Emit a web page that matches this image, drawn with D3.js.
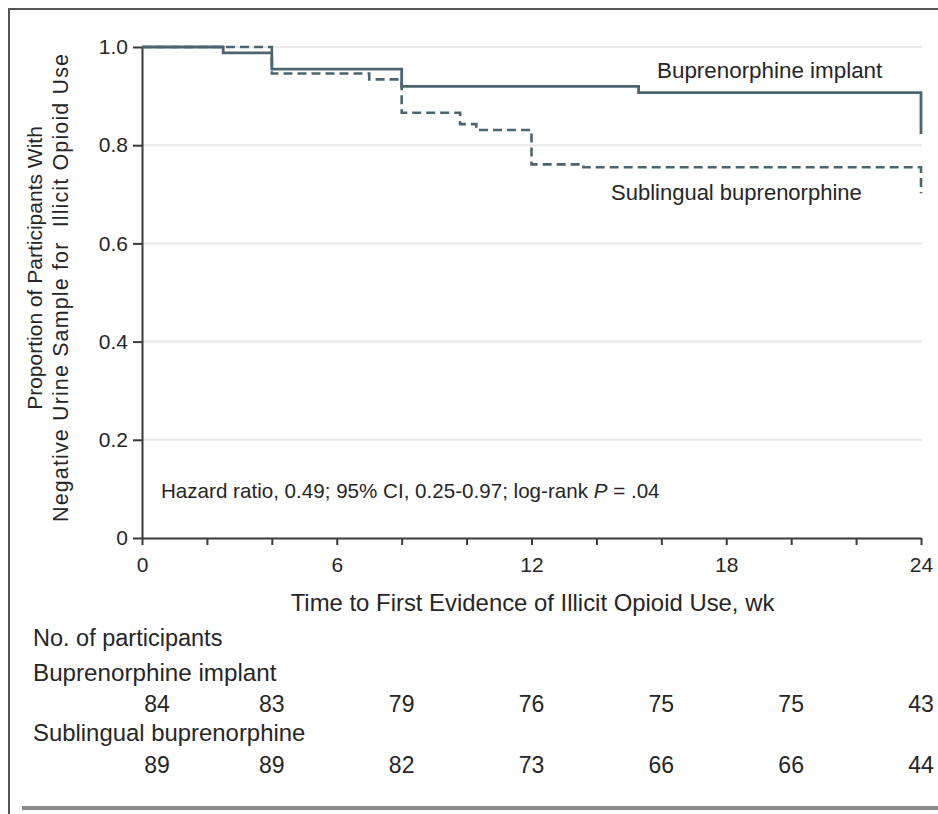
<!DOCTYPE html>
<html>
<head>
<meta charset="utf-8">
<script src="https://cdn.jsdelivr.net/npm/d3@7"></script>
<style>
  html, body { margin: 0; padding: 0; background: #fff; }
  svg { display: block; }
  text { font-family: "Liberation Sans", Arial, sans-serif; fill: #262626; }
</style>
</head>
<body>
<svg id="chart" width="938" height="814"></svg>
<script>
// ---- Data ----
const implantTimes = [0, 2.5, 4, 8, 15.3, 24];
const implantSurv  = [1.0, 0.988, 0.955, 0.920, 0.907, 0.823];
const sublingualTimes = [0, 4, 7, 8, 9.8, 10.3, 12, 13.6, 24];
const sublingualSurv  = [1.0, 0.946, 0.934, 0.866, 0.843, 0.831, 0.761, 0.755, 0.702];

const xTicks = [0, 2, 4, 6, 8, 10, 12, 14, 16, 18, 20, 22, 24];
const xTickLabels = [0, 6, 12, 18, 24];
const yTicks = [0, 0.2, 0.4, 0.6, 0.8, 1.0];
const yGrid = [0.2, 0.4, 0.6, 0.8, 1.0];

const riskTimes = [0, 4, 8, 12, 16, 20, 24];
const riskImplant = [84, 83, 79, 76, 75, 75, 43];
const riskSublingual = [89, 89, 82, 73, 66, 66, 44];

const seriesNames = ["Buprenorphine implant", "Sublingual buprenorphine"];
const yTitleLines = ["Proportion of Participants With", "Negative Urine Sample for\u00a0 Illicit Opioid Use"];
const xTitle = "Time to First Evidence of Illicit Opioid Use, wk";
const riskTitle = "No. of participants";

// ---- Layout ----
const svg = d3.select("#chart");
const curveColor = "#4b6670";
const x = d3.scaleLinear().domain([0, 24]).range([142, 921]);
const y = d3.scaleLinear().domain([0, 1]).range([538, 47]);

// frame
svg.append("line").attr("x1", 9).attr("x2", 938).attr("y1", 9).attr("y2", 9)
  .attr("stroke", "#555").attr("stroke-width", 2);
svg.append("line").attr("x1", 9).attr("x2", 9).attr("y1", 8).attr("y2", 814)
  .attr("stroke", "#555").attr("stroke-width", 2);
svg.append("line").attr("x1", 22).attr("x2", 938).attr("y1", 808).attr("y2", 808)
  .attr("stroke", "#8a8a8a").attr("stroke-width", 4);

// gridlines
svg.append("g").selectAll("line").data(yGrid).join("line")
  .attr("x1", x(0)).attr("x2", x(24) + 1)
  .attr("y1", d => y(d)).attr("y2", d => y(d))
  .attr("stroke", "#e8e8e8").attr("stroke-width", 2);

// axes
const xAxis = d3.axisBottom(x).tickValues(xTicks)
  .tickFormat(d => xTickLabels.includes(d) ? d : "")
  .tickSize(7).tickSizeOuter(0).tickPadding(12);
const gx = svg.append("g").attr("transform", `translate(0,${y(0)})`).call(xAxis);
gx.select(".domain").attr("stroke", "#3a3a3a").attr("stroke-width", 2);
gx.selectAll(".tick line").attr("stroke", "#3a3a3a").attr("stroke-width", 2);
gx.selectAll(".tick text").style("font-size", "21px").attr("fill", "#262626");

const yAxis = d3.axisLeft(y).tickValues(yTicks)
  .tickFormat(d => d === 0 ? "0" : d3.format(".1f")(d))
  .tickSize(9).tickSizeOuter(0).tickPadding(5);
const gy = svg.append("g").attr("transform", `translate(${x(0)},0)`).call(yAxis);
gy.select(".domain").attr("stroke", "#3a3a3a").attr("stroke-width", 2);
gy.selectAll(".tick line").attr("stroke", "#3a3a3a").attr("stroke-width", 2);
gy.selectAll(".tick text").style("font-size", "21px").attr("fill", "#262626");
svg.selectAll(".tick text").style("font-family", "Liberation Sans, Arial, sans-serif");

// curves
const line = d3.line().x(d => x(d[0])).y(d => y(d[1])).curve(d3.curveStepAfter);
const implantData = implantTimes.map((t, i) => [t, implantSurv[i]]);
const sublingualData = sublingualTimes.map((t, i) => [t, sublingualSurv[i]]);
svg.append("path").datum(sublingualData).attr("d", line)
  .attr("fill", "none").attr("stroke", curveColor).attr("stroke-width", 2.6)
  .attr("stroke-dasharray", "9,5");
svg.append("path").datum(implantData).attr("d", line)
  .attr("fill", "none").attr("stroke", curveColor).attr("stroke-width", 2.8);

// curve labels
svg.append("text").attr("x", 657).attr("y", 78).style("font-size", "22.4px").text(seriesNames[0]);
svg.append("text").attr("x", 611).attr("y", 200).style("font-size", "22px").text(seriesNames[1]);

// annotation
const ann = svg.append("text").attr("x", 161).attr("y", 498).style("font-size", "20.6px");
ann.append("tspan").text("Hazard ratio, 0.49; 95% CI, 0.25-0.97; log-rank ");
ann.append("tspan").style("font-style", "italic").text("P");
ann.append("tspan").text(" = .04");

// y title
svg.append("text").attr("transform", "translate(42,268) rotate(-90)")
  .attr("text-anchor", "middle").style("font-size", "21px").text(yTitleLines[0]);
svg.append("text").attr("transform", "translate(68,288) rotate(-90)")
  .attr("text-anchor", "middle").style("font-size", "21.5px")
  .attr("textLength", 468).attr("lengthAdjust", "spacing").text(yTitleLines[1]);

// x title
svg.append("text").attr("x", (289 + 776) / 2).attr("y", 611)
  .attr("text-anchor", "middle").style("font-size", "23.9px").text(xTitle);

// risk table
svg.append("text").attr("x", 33).attr("y", 646).style("font-size", "23.5px").text(riskTitle);
svg.append("text").attr("x", 33).attr("y", 681).style("font-size", "24.2px").text(seriesNames[0]);
svg.append("text").attr("x", 33).attr("y", 741).style("font-size", "23.9px").text(seriesNames[1]);
const rx = t => Math.max(x(t), x(0) + 15);
svg.append("g").selectAll("text").data(riskImplant).join("text")
  .attr("x", (d, i) => rx(riskTimes[i])).attr("y", 712)
  .attr("text-anchor", "middle").style("font-size", "23px").text(d => d);
svg.append("g").selectAll("text").data(riskSublingual).join("text")
  .attr("x", (d, i) => rx(riskTimes[i])).attr("y", 773)
  .attr("text-anchor", "middle").style("font-size", "23px").text(d => d);
</script>
</body>
</html>
